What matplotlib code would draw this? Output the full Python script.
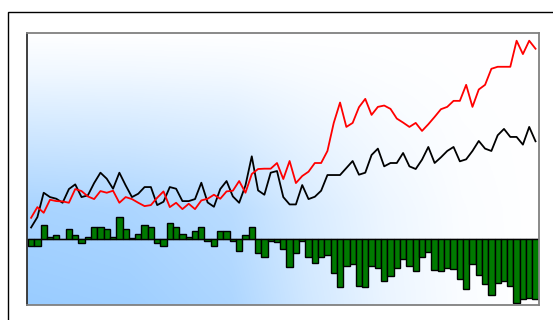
import matplotlib
matplotlib.use('Agg')
import numpy as np
import matplotlib.pyplot as plt
from matplotlib.patches import Rectangle

# values (arbitrary units)
red_line = [6.3, 9.5, 7.8, 11.7, 11.3, 11.2, 10.8, 14.9, 14.3, 12.7,
            11.9, 14.3, 13.8, 14.4, 10.8, 12.5, 11.9, 10.8, 9.8, 10.1,
            12.3, 14.2, 9.5, 10.8, 8.9, 10.5, 8.9, 11.5, 12.0, 13.2,
            12.0, 14.2, 14.4, 17.3, 13.8, 19.4, 20.9, 21.0, 21.0, 22.7,
            17.9, 23.3, 16.7, 18.8, 20.1, 22.7, 22.7, 26.3, 34.7, 40.8,
            33.5, 34.7, 39.4, 41.9, 37.1, 39.5, 39.9, 38.9, 36.0, 34.8,
            33.5, 34.7, 32.3, 34.3, 36.5, 38.8, 39.5, 41.3, 41.3, 46.1,
            39.5, 44.7, 46.1, 50.9, 51.5, 51.5, 51.5, 59.3, 55.3, 59.3,
            56.9]

black_line = [3.4, 6.5, 13.8, 12.5, 12.0, 10.8, 14.9, 16.3, 12.5, 13.0,
              16.7, 19.8, 18.0, 15.0, 19.8, 16.0, 12.5, 13.5, 15.5, 15.5,
              10.1, 11.1, 15.5, 15.0, 11.3, 11.3, 11.9, 16.8, 10.9, 9.6,
              14.9, 17.3, 12.7, 10.8, 16.0, 24.7, 14.5, 13.2, 19.8, 20.3,
              12.5, 10.3, 10.3, 16.1, 11.9, 12.6, 14.4, 19.1, 19.1, 19.1,
              21.2, 23.3, 19.2, 19.8, 25.1, 27.0, 21.7, 22.7, 22.7, 25.7,
              21.7, 20.9, 23.7, 27.5, 22.7, 24.4, 26.3, 27.5, 23.2, 23.8,
              26.3, 29.3, 27.0, 26.3, 31.0, 32.9, 30.5, 30.5, 28.2, 33.5,
              29.2]

bars = [-2.0, -2.0, 4.1, 0.5, 1.1, -0.1, 2.9, 1.1, -1.3, 0.5,
        3.4, 3.4, 2.8, 0.5, 6.5, 2.8, 0.3, 1.6, 4.0, 3.4,
        -1.3, -2.0, 4.7, 3.4, 1.6, 0.6, 2.4, 3.4, -0.7, -2.0,
        2.3, 2.3, -0.7, -3.7, 1.1, 3.4, -4.2, -5.5, -0.7, -0.9,
        -3.1, -8.5, -4.2, -0.7, -5.5, -7.3, -5.5, -4.9, -10.3, -14.5,
        -8.1, -7.6, -14.0, -14.5, -8.1, -8.7, -12.7, -11.0, -8.6, -6.1,
        -8.0, -9.5, -5.5, -4.0, -9.2, -9.6, -8.7, -9.1, -12.1, -15.1,
        -7.5, -10.9, -13.4, -16.9, -13.3, -12.6, -14.0, -19.3, -18.1, -17.6,
        -17.9]

x = np.arange(len(red_line))

fig = plt.figure(figsize=(5.53, 3.2), dpi=100, facecolor='white')
# outer frame (runs off the right/bottom of the picture)
fig.add_artist(Rectangle((7.5 / 553, -0.1), 1.2, 0.961 + 0.1,
                         transform=fig.transFigure, fill=False,
                         edgecolor='black', lw=1.0))

ax = fig.add_axes([27.3 / 553, 15 / 320, 512 / 553, 272.3 / 320])
x0, x1 = -0.6, len(x) - 0.4
y0, y1 = -19.8, 61.7

# background: light blue in the lower left fading to white
gx = np.linspace(0, 1, 300)
gy = np.linspace(0, 1, 200)
fx = np.interp(gx, [0, 0.2, 0.4, 0.55, 0.7, 0.85, 1], [1, 0.95, 0.8, 0.45, 0.2, 0.05, 0])
fy = np.interp(gy, [0, 0.35, 0.6, 0.85, 1], [1, 0.85, 0.5, 0.15, 0])
t = np.outer(fy, fx)[..., None]
blue = np.array([0.6, 0.8, 1.0])
img = (1 - t) * np.ones(3) + t * blue
ax.imshow(img, extent=[x0, x1, y0, y1], origin='lower', aspect='auto', zorder=0)

ax.axhline(0, color='#555555', lw=1.0, zorder=1)
ax.bar(x, bars, width=1.0, color='#007a00', edgecolor='black', lw=1.0, zorder=2)
ax.plot(x, black_line, color='black', lw=1.3, zorder=3)
ax.plot(x, red_line, color='red', lw=1.3, zorder=4)

ax.set_xlim(x0, x1)
ax.set_ylim(y0, y1)
ax.set_xticks([])
ax.set_yticks([])
for side in ['top', 'right', 'bottom']:
    ax.spines[side].set_color('#808080')
    ax.spines[side].set_linewidth(1.3)
ax.spines['left'].set_color('#303030')
ax.spines['left'].set_linewidth(1.3)

plt.savefig('out.png', dpi=100)
